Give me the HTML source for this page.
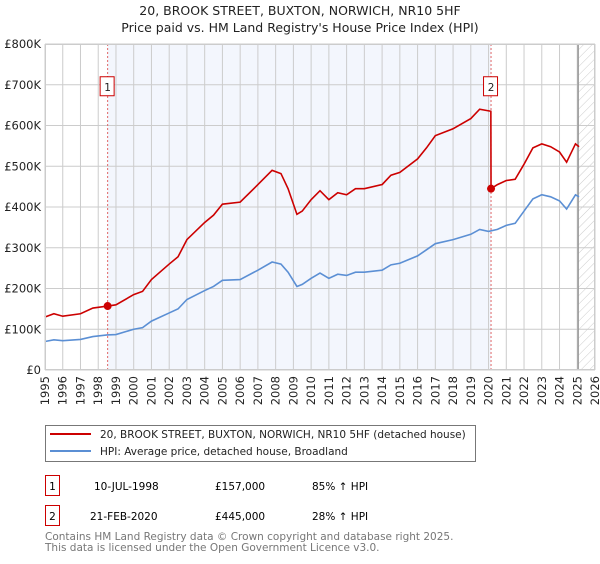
<!DOCTYPE html>
<html><head><meta charset="utf-8">
<style>
body{margin:0;background:#fff;font-family:"DejaVu Sans","Liberation Sans",sans-serif;}
svg text{font-family:"DejaVu Sans","Liberation Sans",sans-serif;}
</style></head>
<body>
<svg id="c" width="600" height="560" viewBox="0 0 600 560" xmlns="http://www.w3.org/2000/svg">
<defs>
<pattern id="hatch" width="6" height="6" patternUnits="userSpaceOnUse" patternTransform="rotate(45)">
<line x1="0" y1="0" x2="0" y2="6" stroke="#ccc" stroke-width="1"/>
</pattern>
</defs>
<text x="300" y="15" text-anchor="middle" font-size="12.5" fill="#222">20, BROOK STREET, BUXTON, NORWICH, NR10 5HF</text>
<text x="300" y="32" text-anchor="middle" font-size="12.5" fill="#222">Price paid vs. HM Land Registry's House Price Index (HPI)</text>
<g id="plot"></g>
<rect x="45.5" y="425.5" width="430" height="36" fill="#fff" stroke="#777"/>
<line x1="50" y1="434" x2="91" y2="434" stroke="#cc0000" stroke-width="2"/>
<text x="100" y="438" font-size="10.5" fill="#222">20, BROOK STREET, BUXTON, NORWICH, NR10 5HF (detached house)</text>
<line x1="50" y1="451" x2="91" y2="451" stroke="#5b8fd4" stroke-width="2"/>
<text x="100" y="455" font-size="10.5" fill="#222">HPI: Average price, detached house, Broadland</text>
<g>
<rect x="45.5" y="475.5" width="14" height="20" fill="#fff" stroke="#cc0000"/>
<text x="52.5" y="490" text-anchor="middle" font-size="10.5">1</text>
<text x="94" y="490" font-size="10.5">10-JUL-1998</text>
<text x="215" y="490" font-size="10.5">£157,000</text>
<text x="312" y="490" font-size="10.5">85% ↑ HPI</text>
</g>
<g>
<rect x="45.5" y="505.5" width="14" height="20" fill="#fff" stroke="#cc0000"/>
<text x="52.5" y="520" text-anchor="middle" font-size="10.5">2</text>
<text x="90" y="520" font-size="10.5">21-FEB-2020</text>
<text x="215" y="520" font-size="10.5">£445,000</text>
<text x="312" y="520" font-size="10.5">28% ↑ HPI</text>
</g>
<text x="45" y="540" font-size="10.5" fill="#777">Contains HM Land Registry data © Crown copyright and database right 2025.</text>
<text x="45" y="551" font-size="10.5" fill="#777">This data is licensed under the Open Government Licence v3.0.</text>
</svg>
<script>
const hpiDates=[1995,1995.5,1996,1997,1997.7,1998.5,1999,2000,2000.5,2001,2002,2002.5,2003,2004,2004.5,2005,2006,2007,2007.8,2008.3,2008.7,2009.2,2009.5,2010,2010.5,2011,2011.5,2012,2012.5,2013,2014,2014.5,2015,2016,2016.5,2017,2018,2019,2019.5,2020,2020.5,2021,2021.5,2022,2022.5,2023,2023.5,2024,2024.4,2024.9,2025.1];
const hpiValues=[70,74,72,75,82,86,87,100,104,120,140,150,173,195,205,220,222,245,265,260,240,205,210,225,238,225,235,232,240,240,245,258,262,280,295,310,320,333,345,340,345,355,360,390,420,430,425,415,395,430,425];
const priceDates=[1995,1995.5,1996,1997,1997.7,1998.53,1999,2000,2000.5,2001,2002,2002.5,2003,2004,2004.5,2005,2006,2007,2007.8,2008.3,2008.7,2009.2,2009.5,2010,2010.5,2011,2011.5,2012,2012.5,2013,2014,2014.5,2015,2016,2016.5,2017,2018,2019,2019.5,2020.13,2020.14,2020.5,2021,2021.5,2022,2022.5,2023,2023.5,2024,2024.4,2024.9,2025.1];
const priceValues=[130,138,132,138,152,157,160,185,193,222,260,278,320,362,380,407,412,455,490,482,445,382,390,418,440,418,435,430,445,445,455,478,485,518,545,575,592,617,640,635,445,455,465,468,505,545,555,548,535,510,555,548];
const saleDates=[1998.53,2020.14];
const saleValues=[157,445];
const saleLabels=["1","2"];
const yTicks=[0,100,200,300,400,500,600,700,800];
const yTickLabels=["£0","£100K","£200K","£300K","£400K","£500K","£600K","£700K","£800K"];
const xYears=[1995,1996,1997,1998,1999,2000,2001,2002,2003,2004,2005,2006,2007,2008,2009,2010,2011,2012,2013,2014,2015,2016,2017,2018,2019,2020,2021,2022,2023,2024,2025,2026];

const X0=45,X1=595,Y0=370,Y1=44;
const xs=v=>X0+(v-1995)/(2026-1995)*(X1-X0);
const ys=v=>Y0-v/800*(Y0-Y1);
const NS="http://www.w3.org/2000/svg";
const g=document.getElementById('plot');
function mk(t,a){const e=document.createElementNS(NS,t);for(const k in a)e.setAttribute(k,a[k]);g.appendChild(e);return e;}

let e=mk('rect',{x:X0,y:Y1,width:X1-X0,height:Y0-Y1,fill:'#fff'});


e=mk('rect',{x:xs(saleDates[0]),y:Y1,width:xs(saleDates[1])-xs(saleDates[0]),height:Y0-Y1,fill:'#f3f6fd'});


e=mk('rect',{x:xs(2025.05),y:Y1,width:X1-xs(2025.05),height:Y0-Y1,fill:'url(#hatch)'});


xYears.forEach(yr=>{
  const x=xs(yr);
  const l=mk('line',{x1:x,y1:Y1,x2:x,y2:Y0,stroke:'#ccc','stroke-width':1});
  
  
  const t=mk('text',{x:x+4,y:Y0+6,'font-size':11.5,fill:'#222',transform:`rotate(-90 ${x+4} ${Y0+6})`,'text-anchor':'end'});
  t.textContent=yr;
  
  
});
yTicks.forEach((v,i)=>{
  const y=ys(v);
  const l=mk('line',{x1:X0,y1:y,x2:X1,y2:y,stroke:'#ccc','stroke-width':1});
  
  
  const t=mk('text',{x:X0-4,y:y+4,'font-size':11.5,fill:'#222','text-anchor':'end'});
  t.textContent=yTickLabels[i];
  
  
});
e=mk('line',{x1:xs(2025.05),y1:Y1,x2:xs(2025.05),y2:Y0,stroke:'#999','stroke-width':1.5});


saleDates.forEach((d,i)=>{
  const x=xs(d);
  const l=mk('line',{x1:x,y1:Y1,x2:x,y2:Y0,stroke:'#e06666','stroke-width':1,'stroke-dasharray':'2,2'});
  
  
  const r=mk('rect',{x:x-7.5,y:ys(700)-8,width:14,height:19,fill:'#fff',stroke:'#cc0000'});
  
  
  const t=mk('text',{x:x,y:ys(700)+6,'font-size':10.5,'text-anchor':'middle',fill:'#222'});
  t.textContent=saleLabels[i];
  
  
});
e=mk('polyline',{points:hpiDates.map((d,i)=>xs(d)+','+ys(hpiValues[i])).join(' '),fill:'none',stroke:'#5b8fd4','stroke-width':1.6});


e=mk('polyline',{points:priceDates.map((d,i)=>xs(d)+','+ys(priceValues[i])).join(' '),fill:'none',stroke:'#cc0000','stroke-width':1.6});


saleDates.forEach((d,i)=>{
  const c=mk('circle',{cx:xs(d),cy:ys(saleValues[i]),r:4,fill:'#cc0000'});
  
  
});
e=mk('rect',{x:X0+0.5,y:Y1+0.5,width:X1-X0-1,height:Y0-Y1-1,fill:'none',stroke:'#ccc'});


</script>
</body></html>
